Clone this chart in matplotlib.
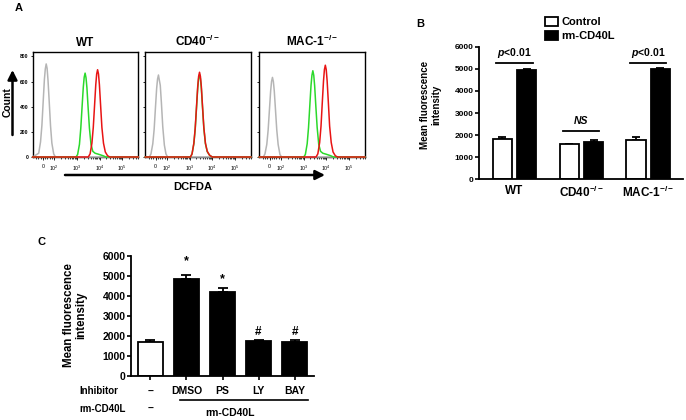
import numpy as np
import matplotlib
matplotlib.use("Agg")
import matplotlib.pyplot as plt
from matplotlib.patches import Patch

plt.rcParams['font.family'] = ['Liberation Sans', 'DejaVu Sans']
plt.rcParams['mathtext.fontset'] = 'custom'
plt.rcParams['mathtext.rm'] = 'Liberation Sans'
plt.rcParams['mathtext.bf'] = 'Liberation Sans:bold'
plt.rcParams['mathtext.it'] = 'Liberation Sans:italic'
plt.rcParams['mathtext.bfit'] = 'Liberation Sans:italic:bold'

# ---------------- Panel A data (histograms, x in display "decade" units) ----------------
a_titles = ['WT', r'CD40$^{\mathbf{-/-}}$', r'MAC-1$^{\mathbf{-/-}}$']
a_ytick_vals = [0, 200, 400, 600, 800]
a_xtick_pos = [1.51, 2, 3, 4, 5]
a_xtick_labels = ['0', r'$10^2$', r'$10^3$', r'$10^4$', r'$10^5$']

wt_gray_x = [1.05, 1.315, 1.395, 1.455, 1.515, 1.565, 1.605, 1.645, 1.685, 1.725, 1.775, 1.835, 1.895, 1.975, 2.05, 5.70]
wt_gray_y = [0, 30, 120, 250, 450, 615, 700, 740, 705, 610, 450, 250, 110, 25, 0, 0]
wt_green_x = [1.05, 2.96, 3.03, 3.11, 3.17, 3.23, 3.28, 3.32, 3.36, 3.40, 3.44, 3.49, 3.55, 3.62, 3.70, 3.80, 3.95, 4.15, 4.28, 5.70]
wt_green_y = [0, 0, 20, 100, 230, 410, 555, 635, 667, 630, 550, 400, 230, 100, 45, 30, 22, 10, 0, 0]
wt_red_x = [1.05, 3.50, 3.58, 3.66, 3.72, 3.78, 3.83, 3.87, 3.91, 3.95, 3.99, 4.04, 4.10, 4.17, 4.25, 4.35, 4.45, 5.70]
wt_red_y = [0, 0, 25, 110, 235, 420, 575, 660, 694, 660, 575, 420, 235, 110, 40, 10, 0, 0]

cd_gray_x = [1.05, 1.23, 1.30, 1.38, 1.44, 1.50, 1.55, 1.59, 1.63, 1.67, 1.71, 1.76, 1.82, 1.89, 1.96, 2.03, 5.70]
cd_gray_y = [0, 0, 25, 105, 220, 400, 545, 620, 652, 610, 570, 430, 240, 95, 25, 0, 0]
cd_green_x = [1.05, 3.04, 3.11, 3.19, 3.25, 3.31, 3.36, 3.40, 3.44, 3.48, 3.52, 3.57, 3.63, 3.70, 3.78, 3.88, 4.00, 5.70]
cd_green_y = [0, 0, 24, 105, 222, 398, 545, 622, 655, 622, 545, 398, 228, 106, 43, 14, 0, 0]
cd_red_x = [1.05, 3.04, 3.11, 3.19, 3.25, 3.31, 3.36, 3.40, 3.44, 3.48, 3.52, 3.57, 3.63, 3.70, 3.78, 3.88, 4.00, 5.70]
cd_red_y = [0, 0, 25, 110, 230, 410, 560, 640, 674, 640, 560, 410, 235, 110, 45, 15, 0, 0]

mac_gray_x = [1.05, 1.23, 1.30, 1.38, 1.44, 1.50, 1.55, 1.59, 1.63, 1.67, 1.71, 1.76, 1.82, 1.88, 1.96, 2.03, 5.70]
mac_gray_y = [0, 0, 25, 100, 215, 385, 525, 600, 633, 600, 525, 385, 215, 100, 20, 0, 0]
mac_green_x = [1.05, 3.01, 3.08, 3.16, 3.22, 3.28, 3.33, 3.37, 3.41, 3.45, 3.49, 3.54, 3.60, 3.67, 3.75, 3.85, 4.00, 4.20, 4.32, 5.70]
mac_green_y = [0, 0, 20, 105, 235, 420, 570, 650, 686, 650, 565, 410, 235, 100, 45, 30, 22, 10, 0, 0]
mac_red_x = [1.05, 3.55, 3.63, 3.71, 3.77, 3.83, 3.88, 3.92, 3.96, 4.00, 4.04, 4.09, 4.15, 4.22, 4.30, 4.40, 4.50, 5.70]
mac_red_y = [0, 0, 25, 115, 245, 445, 605, 695, 730, 695, 605, 445, 245, 115, 40, 10, 0, 0]

a_curves = [
    [(wt_gray_x, wt_gray_y), (wt_green_x, wt_green_y), (wt_red_x, wt_red_y)],
    [(cd_gray_x, cd_gray_y), (cd_green_x, cd_green_y), (cd_red_x, cd_red_y)],
    [(mac_gray_x, mac_gray_y), (mac_green_x, mac_green_y), (mac_red_x, mac_red_y)],
]
a_colors = ['#b5b5b5', '#2bd92b', '#e81414']

# ---------------- Panel B data ----------------
b_groups = ['WT', r'CD40$^{\mathbf{-/-}}$', r'MAC-1$^{\mathbf{-/-}}$']
b_control = [1820, 1600, 1780]
b_control_err = [80, 0, 150]
b_cd40l = [4950, 1710, 5000]
b_cd40l_err = [40, 70, 40]
b_sig_labels = [r'$\mathbfit{p}$<0.01', 'NS', r'$\mathbfit{p}$<0.01']
b_sig_line_y = [5250, 2200, 5250]
b_sig_text_y = [5720, 2620, 5720]
b_legend = ['Control', 'rm-CD40L']

# ---------------- Panel C data ----------------
c_inhibitors = ['\u2013', 'DMSO', 'PS', 'LY', 'BAY']
c_values = [1700, 4860, 4190, 1720, 1710]
c_err = [80, 180, 190, 70, 60]
c_marks = ['', '*', '*', '#', '#']
c_mark_y = [0, 5720, 4860, 2190, 2190]

W, H = 686, 420
fig = plt.figure(figsize=(W / 100, H / 100), dpi=100)


def fx(p):
    return p / W


def fy(p):
    return 1 - p / H


# ---------------- Panel A ----------------
a_lefts = [32.7, 145.3, 259.3]
a_minor = [v for d in [2, 3, 4, 5] for v in (d + np.log10(np.arange(2, 10)))] + [1.2, 1.3, 1.4, 1.6, 1.7, 1.8, 1.9]
for i, left in enumerate(a_lefts):
    ax = fig.add_axes([fx(left), fy(157), fx(105.5), (157 - 52) / H])
    for (xs, ys), col in zip(a_curves[i], a_colors):
        ax.plot(xs, ys, color=col, lw=1.1, solid_joinstyle='round', zorder=3, clip_on=False)
    ax.set_xlim(1.05, 5.70)
    ax.set_ylim(0, 835)
    ax.set_yticks(a_ytick_vals)
    if i == 0:
        ax.set_yticklabels([str(v) for v in a_ytick_vals], fontsize=3.6, fontweight='bold')
    else:
        ax.set_yticklabels([])
    ax.set_xticks(a_xtick_pos)
    ax.set_xticklabels(a_xtick_labels, fontsize=3.8)
    ax.set_xticks([m for m in a_minor if m < 5.7], minor=True)
    ax.tick_params(axis='both', which='major', length=2, width=0.6, pad=3, direction='out')
    ax.tick_params(axis='x', which='minor', length=1.3, width=0.5, direction='out')
    ax.tick_params(axis='y', which='major', length=1.5, pad=1.5)
    for s in ax.spines.values():
        s.set_linewidth(1.0)
        s.set_color('black')
    ax.set_title(a_titles[i], fontsize=8.5, fontweight='bold', pad=4)

fig.text(fx(19), fy(8), 'A', fontsize=8, fontweight='bold', ha='center', va='center')
fig.text(fx(7.5), fy(102), 'Count', rotation=90, fontsize=7.5, fontweight='bold', ha='center', va='center')
ann_kw = dict(arrowstyle='-|>,head_length=0.7,head_width=0.35', lw=1.8, color='black', shrinkA=0, shrinkB=0,
              mutation_scale=8)
ax_over = fig.add_axes([0, 0, 1, 1], facecolor='none')
ax_over.set_axis_off()
ax_over.set_xlim(0, W)
ax_over.set_ylim(H, 0)
ax_over.annotate('', xy=(12.5, 70), xytext=(12.5, 135), arrowprops=ann_kw)
ax_over.annotate('', xy=(325, 175), xytext=(65, 175), arrowprops=ann_kw)
fig.text(fx(193), fy(187), 'DCFDA', fontsize=8, fontweight='bold', ha='center', va='center')

# ---------------- Panel B ----------------
axb = fig.add_axes([fx(479), fy(179.3), fx(683 - 479), (179.3 - 46.7) / H])
xb = np.arange(len(b_groups))
off, bw = 0.183, 0.285
axb.bar(xb - off, b_control, width=bw, color='white', edgecolor='black', lw=1.3, zorder=2)
axb.bar(xb + off, b_cd40l, width=bw, color='black', edgecolor='black', lw=1.3, zorder=2)
axb.errorbar(xb - off, b_control, yerr=[np.zeros(3), b_control_err], fmt='none', ecolor='black',
             elinewidth=1.3, capsize=3.2, capthick=1.3, zorder=1)
axb.errorbar(xb + off, b_cd40l, yerr=[np.zeros(3), b_cd40l_err], fmt='none', ecolor='black',
             elinewidth=1.3, capsize=3.2, capthick=1.3, zorder=1)
for i in range(len(b_groups)):
    axb.plot([i - 0.27, i + 0.27], [b_sig_line_y[i], b_sig_line_y[i]], color='black', lw=1.3, clip_on=False)
    if b_sig_labels[i] == 'NS':
        axb.text(i, b_sig_text_y[i], 'NS', fontsize=7.5, fontweight='bold', fontstyle='italic',
                 ha='center', va='center')
    else:
        axb.text(i, b_sig_text_y[i], b_sig_labels[i], fontsize=7.5, fontweight='bold',
                 ha='center', va='center')
axb.set_xlim(-0.53, 2.52)
axb.set_ylim(0, 6000)
axb.set_yticks(np.arange(0, 6001, 1000))
axb.set_yticklabels([str(v) for v in range(0, 6001, 1000)], fontsize=6, fontweight='bold')
axb.set_xticks(xb)
axb.set_xticklabels(b_groups, fontsize=8.5, fontweight='bold')
axb.tick_params(axis='y', length=3, width=1.2, pad=1)
axb.tick_params(axis='x', length=0, pad=4)
for s in ['top', 'right']:
    axb.spines[s].set_visible(False)
for s in ['left', 'bottom']:
    axb.spines[s].set_linewidth(1.3)
fig.text(fx(431), fy(105), 'Mean fluorescence\nintensity', rotation=90, fontsize=7, fontweight='bold',
         ha='center', va='center', multialignment='center', linespacing=1.15)
fig.text(fx(420), fy(24), 'B', fontsize=8, fontweight='bold', ha='center', va='center')
handles = [Patch(facecolor='white', edgecolor='black', lw=1.3), Patch(facecolor='black', edgecolor='black', lw=1.3)]
fig.legend(handles, b_legend, loc='upper left', bbox_to_anchor=(fx(545), fy(17)), frameon=False,
           prop={'family': 'Liberation Sans', 'weight': 'bold', 'size': 8}, handlelength=1.15,
           handleheight=0.85, handletextpad=0.35, labelspacing=0.35, borderpad=0, borderaxespad=0)

# ---------------- Panel C ----------------
axc = fig.add_axes([fx(131), fy(375.7), fx(314 - 131), (375.7 - 256) / H])
xc = np.arange(len(c_values))
c_colors = ['white'] + ['black'] * (len(c_values) - 1)
axc.bar(xc, c_values, width=0.71, color=c_colors, edgecolor='black', lw=1.3, zorder=2)
axc.errorbar(xc, c_values, yerr=[np.zeros(len(c_values)), c_err], fmt='none', ecolor='black',
             elinewidth=1.3, capsize=3.5, capthick=1.3, zorder=1)
for i, m in enumerate(c_marks):
    if m:
        axc.text(i, c_mark_y[i], m, fontsize=9 if m == '*' else 8.5, fontweight='bold',
                 ha='center', va='center')
axc.set_xlim(-0.54, 4.54)
axc.set_ylim(0, 6000)
axc.set_yticks(np.arange(0, 6001, 1000))
axc.set_yticklabels([str(v) for v in range(0, 6001, 1000)], fontsize=7.5, fontweight='bold')
axc.set_xticks(xc)
axc.set_xticklabels([])
axc.tick_params(axis='both', length=3, width=1.2, pad=1)
for s in ['top', 'right']:
    axc.spines[s].set_visible(False)
for s in ['left', 'bottom']:
    axc.spines[s].set_linewidth(1.3)
fig.text(fx(75.5), fy(315), 'Mean fluorescence\nintensity', rotation=90, fontsize=8.3, fontweight='bold',
         ha='center', va='center', multialignment='center', linespacing=1.0)
fig.text(fx(42), fy(242), 'C', fontsize=8, fontweight='bold', ha='center', va='center')

tr = axc.get_xaxis_transform()
for i, lab in enumerate(c_inhibitors):
    axc.text(i, (375.7 - 391.5) / 119.7, lab, transform=tr, fontsize=7.5, fontweight='bold',
             ha='center', va='center', clip_on=False)
axc.text(0, (375.7 - 409) / 119.7, '\u2013', transform=tr, fontsize=7.5, fontweight='bold',
         ha='center', va='center', clip_on=False)
axc.plot([0.82, 4.37], [(375.7 - 400) / 119.7] * 2, transform=tr, color='black', lw=1.2, clip_on=False)
axc.text(2.2, (375.7 - 413) / 119.7, 'rm-CD40L', transform=tr, fontsize=7.5, fontweight='bold',
         ha='center', va='center', clip_on=False)
fig.text(fx(79), fy(391), 'Inhibitor', fontsize=7, fontweight='bold', ha='left', va='center')
fig.text(fx(79), fy(409), 'rm-CD40L', fontsize=7, fontweight='bold', ha='left', va='center')

fig.savefig('out.png', dpi=100)
